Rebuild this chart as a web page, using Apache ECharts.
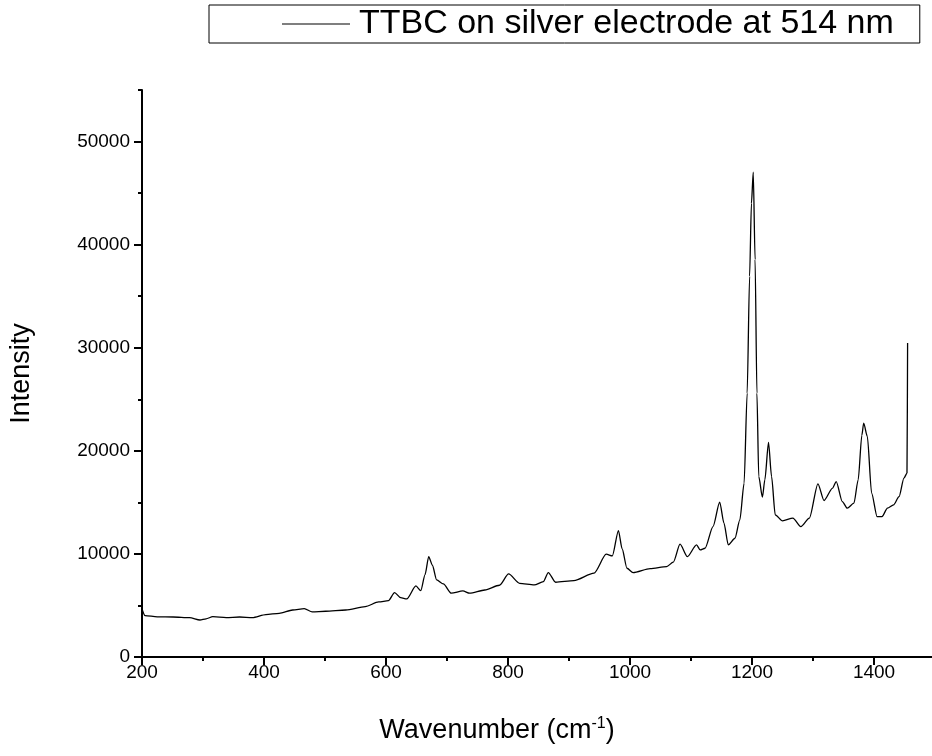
<!DOCTYPE html>
<html>
<head>
<meta charset="utf-8">
<script src="https://cdn.jsdelivr.net/npm/echarts@6/dist/echarts.min.js"></script>
<style>
html, body { margin: 0; padding: 0; background: #fff; }
#main { width: 932px; height: 756px; }
</style>
</head>
<body>
<div id="main"></div>
<script>
// spectrum
var wavenumber = [200, 205, 225, 251, 278, 295, 305, 316, 338, 360, 381, 403, 425, 447, 466, 479, 501, 534, 566, 588,
    604, 614, 624, 634, 649, 657, 664, 670, 676, 683, 694, 707, 726, 737, 762, 786, 801, 819, 843, 858,
    866, 878, 908, 941, 961, 971, 981, 987, 995, 1005, 1033, 1060, 1071, 1082, 1094, 1109, 1115, 1123, 1136, 1147,
    1154, 1161, 1172, 1180, 1187, 1192, 1196, 1199, 1202, 1205, 1208, 1211, 1217, 1221, 1227, 1232, 1238, 1250, 1267, 1280,
    1294, 1308, 1318, 1332, 1338, 1348, 1356, 1367, 1374, 1380, 1383, 1389, 1396, 1405, 1413, 1422, 1432, 1441, 1449, 1454, 1455];
var intensity = [4660, 4010, 3900, 3880, 3820, 3590, 3700, 3910, 3820, 3880, 3820, 4110, 4240, 4560, 4690, 4370, 4440, 4560, 4890, 5340,
    5470, 6250, 5750, 5630, 6890, 6440, 8000, 9740, 8900, 7480, 7090, 6190, 6410, 6190, 6500, 6960, 8060, 7150, 6990, 7310,
    8190, 7250, 7410, 8130, 9970, 9810, 12260, 10500, 8610, 8190, 8580, 8770, 9200, 10940, 9740, 10880, 10390, 10550, 12650, 15020,
    12980, 10880, 11520, 13300, 16870, 25600, 36930, 44000, 47020, 38550, 25600, 17510, 15500, 17190, 20810, 17510, 13790, 13210, 13470, 12650,
    13470, 16800, 15180, 16380, 17020, 15080, 14440, 14920, 17190, 21500, 22690, 21390, 15900, 13620, 13620, 14440, 14760, 15560, 17350, 17840, 30460];

var xMajor = [200, 400, 600, 800, 1000, 1200, 1400];
var xMinor = [300, 500, 700, 900, 1100, 1300, 1500];
var yMajor = [0, 10000, 20000, 30000, 40000, 50000];
var yMinor = [5000, 15000, 25000, 35000, 45000, 55000];

var seriesName = 'TTBC on silver electrode at 514 nm';

var points = [];
for (var i = 0; i < wavenumber.length; i++) {
    points.push([wavenumber[i], intensity[i]]);
}

var font = 'Liberation Sans, Arial, sans-serif';
var plain = function (v) { return String(v); };
var chart = echarts.init(document.getElementById('main'));

chart.setOption({
    backgroundColor: '#fff',
    animation: false,
    textStyle: { fontFamily: font },
    legend: {
        left: 209,
        top: 5,
        padding: [2, 26, 2, 73],
        borderColor: '#000',
        borderWidth: 1,
        itemWidth: 68,
        itemHeight: 1,
        data: [{ name: seriesName, icon: 'rect' }],
        textStyle: { fontSize: 34, color: '#000', fontFamily: font, padding: [0, 0, 0, 4] }
    },
    grid: { left: 142, top: 90, width: 795, height: 567 },
    xAxis: [{
        type: 'value',
        min: 200,
        max: 1495,
        name: '{a|Wavenumber (cm}{s|-1}{a|)}',
        nameLocation: 'middle',
        nameGap: 59,
        nameTextStyle: {
            padding: [0, 80, 0, 0],
            rich: {
                a: { fontSize: 27, color: '#000', fontFamily: font },
                s: { fontSize: 16, color: '#000', fontFamily: font, padding: [0, 0, 14, 0] }
            }
        },
        axisLine: { onZero: false, lineStyle: { color: '#000', width: 2 } },
        axisTick: { customValues: xMajor, length: 8, lineStyle: { color: '#000', width: 2 } },
        axisLabel: { customValues: xMajor, margin: 6, fontSize: 19, color: '#000', formatter: plain },
        splitLine: { show: false }
    }, {
        type: 'value',
        min: 200,
        max: 1495,
        position: 'bottom',
        axisLine: { show: false },
        axisTick: { customValues: xMinor, length: 4, lineStyle: { color: '#000', width: 2 } },
        axisLabel: { show: false },
        splitLine: { show: false }
    }],
    yAxis: [{
        type: 'value',
        min: 0,
        max: 55000,
        name: 'Intensity',
        nameLocation: 'middle',
        nameGap: 107,
        nameTextStyle: { fontSize: 27, color: '#000' },
        axisLine: { onZero: false, lineStyle: { color: '#000', width: 2 } },
        axisTick: { customValues: yMajor, length: 8, lineStyle: { color: '#000', width: 2 } },
        axisLabel: { customValues: yMajor, margin: 12, fontSize: 19, color: '#000', formatter: plain },
        splitLine: { show: false }
    }, {
        type: 'value',
        min: 0,
        max: 55000,
        position: 'left',
        axisLine: { show: false },
        axisTick: { show: true, customValues: yMinor, length: 4, lineStyle: { color: '#000', width: 2 } },
        axisLabel: { show: false },
        splitLine: { show: false }
    }],
    series: [{
        name: seriesName,
        type: 'line',
        data: points,
        showSymbol: false,
        symbol: 'none',
        smooth: 0.25,
        smoothMonotone: 'x',
        lineStyle: { color: '#000', width: 1.3 },
        itemStyle: { color: '#000' }
    }]
});
</script>
</body>
</html>
